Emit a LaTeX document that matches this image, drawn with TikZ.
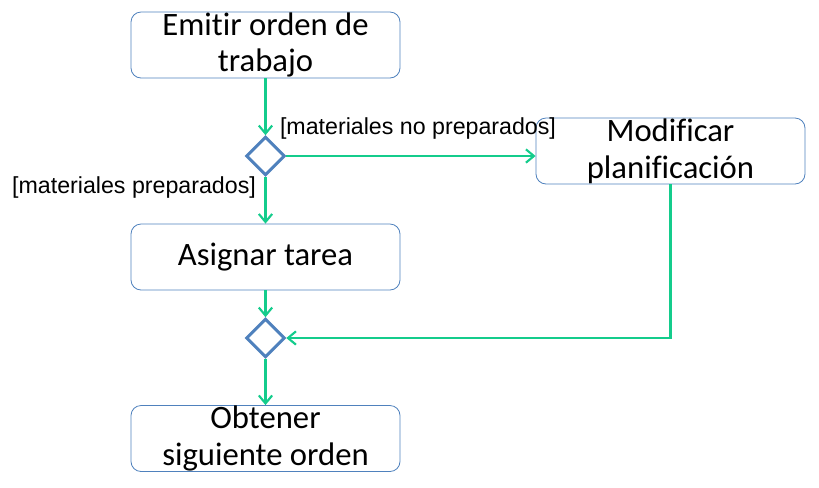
\documentclass[tikz,border=0pt]{standalone}
\usepackage{fontspec}
\setmainfont[Ligatures=NoCommon]{Carlito}
\newfontfamily\labelfont{Liberation Sans}
\usetikzlibrary{shapes.geometric,arrows.meta}
\definecolor{flowgreen}{RGB}{20,204,140}
\definecolor{boxblue}{RGB}{79,129,189}
\tikzset{
  actbox/.style={draw=boxblue, rounded corners=7.5pt, line width=0.6pt, minimum width=201.75pt, minimum height=49.5pt, align=center, font=\fontsize{24.5}{27.5}\selectfont, inner sep=0pt},
  choice/.style={diamond, draw=boxblue, line width=2.2pt, minimum width=29pt, minimum height=29pt, inner sep=0pt, aspect=1},
  flow/.style={->, >={Straight Barb[length=6pt,width=10pt,line width=1.6pt]}, draw=flowgreen, line width=2.2pt},
  guard/.style={font=\labelfont\fontsize{17.4}{20}\selectfont, inner sep=0pt}
}
\begin{document}
\begin{tikzpicture}[x=0.75pt, y=-0.75pt]
\useasboundingbox (0,0) rectangle (819,487);

\node(emitir) at (265.5, 45) [actbox] {Emitir orden de\\trabajo};
\node(d1) at (265.5, 156) [choice] {};
\node(modif) at (670.5, 151) [actbox] {Modificar\\planificación};
\node(asignar) at (265.5, 257) [actbox] {Asignar tarea};
\node(d2) at (265.5, 338) [choice] {};
\node(obtener) at (265.5, 438.5) [actbox] {Obtener\\siguiente orden};

\draw[flow] (emitir) to (d1);
\draw[flow] (d1.east) to (d1.east -| modif.west);
\draw[flow] (d1) to (asignar);
\draw[flow] (asignar) to (d2);
\draw[flow] (modif.south) |- (d2.east);
\draw[flow] (d2) to (obtener);

\node(nolist) at (418, 128) [guard] {[materiales no preparados]};
\node(silist) at (134, 187) [guard] {[materiales preparados]};

\end{tikzpicture}
\end{document}
